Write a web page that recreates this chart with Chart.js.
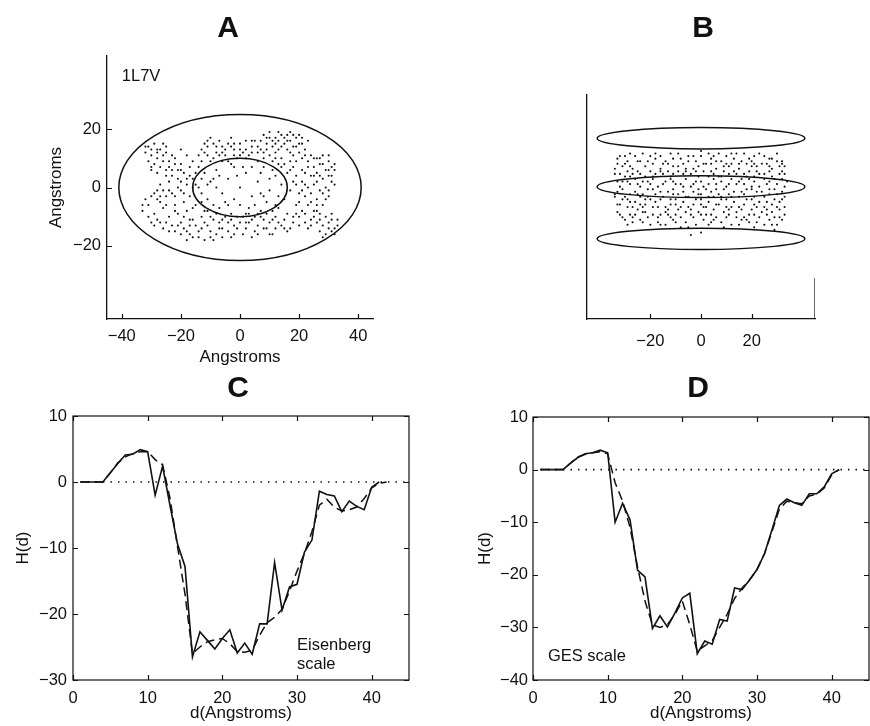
<!DOCTYPE html>
<html>
<head>
<meta charset="utf-8">
<script src="https://cdn.jsdelivr.net/npm/chart.js@4.4.1/dist/chart.umd.min.js"></script>
<style>
  body { margin: 0; background: #fff; }
  #fig { position: relative; width: 870px; height: 726px; overflow: hidden; }
  #fig canvas { position: absolute; }
</style>
</head>
<body>
<div id="fig">
  <canvas id="panelA" width="435" height="380" style="left:0;top:0"></canvas>
  <canvas id="panelB" width="435" height="380" style="left:435px;top:0"></canvas>
  <canvas id="panelC" width="435" height="366" style="left:0;top:360px"></canvas>
  <canvas id="panelD" width="435" height="366" style="left:435px;top:360px"></canvas>
</div>
<script>

const INK = "#111";
const FONT = "'Liberation Sans', Arial, Helvetica, sans-serif";

// =======================
// A - TOP VIEW (x, y in Angstroms)
// =======================

const topViewPts = [
  [-31,14],[-29,15],[-27,13],[-30,11],[-28,10],[-25,12],[-32,12],[-26,15],[-29,8],[-27,7],[-24,9],[-31,9],[-25,6],[-28,13],[-30,6],
  [-22,10],[-20,8],[-23,6],[-19,5],[-17,7],[-21,3],[-24,2],[-18,1],[-16,3],[-20,-1],[-23,-2],[-26,-1],[-25,4],[-17,-3],[-19,-5],
  [-22,-6],[-28,-4],[-31,-6],[-33,-8],[-29,-9],[-26,-7],[-24,-10],[-21,-9],[-18,-8],[-30,-12],[-27,-12],[-23,-13],[-20,-12],
  [-16,-11],[-15,-6],[-14,0],[-15,5],[-22,-3],[-27,1],[-18,11],[-20,13],[-16,9],
  [-12,12],[-10,17],[-8,14],[-6,12],[-4,15],[-2,13],[0,15],[2,16],[4,14],[-13,9],[-9,10],[-5,11],[-1,10],[1,12],[3,11],
  [-11,14],[-7,16],[-3,17],[5,16],[6,12],[-14,11],
  [8,18],[10,19],[12,17],[14,18],[16,18],[18,18],[20,18],[9,15],[11,14],[13,16],[15,15],[17,16],[19,14],[21,15],[7,13],
  [10,11],[12,12],[14,10],[16,13],[18,11],[20,12],[22,13],[8,10],[11,9],[15,8],
  [24,11],[26,10],[28,11],[30,9],[31,7],[29,6],[27,8],[25,7],[23,9],[22,5],[24,4],[26,5],[28,3],[30,4],[32,6],[21,2],[23,0],
  [25,1],[27,-1],[29,0],[31,2],[20,-2],[22,-3],[24,-5],[26,-4],[28,-6],[30,-3],[19,4],[18,7],[17,-1],[19,-6],[21,-8],[25,-8],
  [27,-9],[29,-10],[31,-11],[33,-13],[30,-14],[28,-13],[26,-12],[24,-11],[22,-12],[32,-16],[29,-16],[27,-15],[20,-10],
  [18,-12],[16,-9],[14,-13],[12,-10],[10,-12],[11,-16],[8,-14],[13,-7],
  [-20,-16],[-18,-18],[-16,-17],[-14,-15],[-12,-18],[-10,-17],[-8,-16],[-6,-14],[-4,-15],[-2,-13],[0,-12],[2,-14],[4,-11],
  [6,-13],[-19,-14],[-17,-11],[-15,-13],[-13,-10],[-11,-13],[-9,-11],[-7,-12],[-5,-10],[-3,-11],[-1,-10],[1,-10],[3,-9],
  [5,-10],[7,-10],[9,-9],[-11,-8],
  [-12,5],[-10,2],[-8,6],[-6,-2],[-4,3],[-2,-4],[0,0],[2,5],[4,-3],[6,2],[8,7],[10,-1],[12,4],[-11,-4],[-9,-6],[-3,8],[1,7],
  [5,-6],[9,-5],[13,-3],[11,6],[-7,-7],[3,-7],[-13,-2],[14,1],[-1,4],[7,-2],[-5,-5],[0,-6],[-8,0],
  [16,5],[17,9],[15,-4],[18,2],
  [-30,13],[-26,11],[-28,5],[-24,7],[-21,0],[-25,-3],[-29,-2],[-32,-4],[-27,-5],[-19,-2],[-17,4],[-20,6],[-23,11],[-15,1],
  [-16,-7],[-13,-5],[-24,-15],[-21,-13],[-18,-15],[-14,-17],[-9,-18],[-7,-14],[-3,-17],[1,-16],[3,-12],[5,-15],[7,-8],
  [9,-14],[11,-11],[15,-11],[17,-14],[19,-9],[23,-14],[25,-10],[31,-9],[33,-11],[28,-17],[30,-1],[32,1],[26,2],[24,-2],
  [22,1],[28,8],[30,11],[25,10],[21,10],[19,9],[17,12],[13,13],[15,17],[11,16],[9,13],[7,16],[6,9],[4,12],[2,10],[0,13],
  [-2,11],[-4,9],[-6,14],[-8,12],[-10,9],[-12,15],[-3,14],[19,17],[21,17],[23,16],[13,19],[17,19],[-11,11],[-22,8],
  [-31,-10],[-28,-11],[-26,-14],[-17,-13],[-12,-12],[-8,-9],[-1,-14],[4,-17],[12,-14],[16,-15],[20,-13],[26,-6],[29,-4],
  [23,-6],[20,-5],[21,6],[27,4],[31,4],
  [-32,14],[-28,12],[-25,14],[-30,7],[-26,9],[-23,4],[-21,6],[-18,3],[-16,0],[-20,2],[-24,-1],[-28,-1],[-30,-3],[-33,-6],
  [-27,-3],[-25,-6],[-22,-8],[-19,-10],[-29,-13],[-25,-12],[-22,-15],[-17,-16],[-13,-14],[-10,-15],[-6,-17],[-4,-12],
  [-2,-16],[2,-12],[6,-16],[8,-11],[10,-16],[13,-12],[15,-14],[18,-10],[22,-9],[24,-13],[27,-11],[30,-12],[32,-14],
  [31,-15],[26,-8],[28,-2],[30,6],[32,8],[27,10],[25,4],[23,7],[21,-1],[19,1],[17,6],[18,14],[20,15],[22,11],[16,16],
  [14,14],[12,15],[10,17],[8,12],[6,14],[4,16],[2,13],[0,11],[-2,15],[-5,13],[-7,11],[-9,15],[-11,16],[-13,13],[-6,9],
  [9,17],[12,10],[14,7],[-14,7],[-12,-8],[-10,-10],[-6,-11],[-3,-9],[2,-9],[6,-9],[11,-8],[-4,-6],[-9,3],[-11,1],[-7,4],
  [4,7],[7,5],[10,3],[12,-6],[-2,7],[8,-3],[-13,3],[13,8]
];
// outer and inner rings: centre x, centre y, half-width, half-height
const topViewRings = [[0, 0, 41, 25], [0, 0, 16, 10]];
const ticksAX = [-40, -20, 0, 20, 40];
const ticksAY = [-20, 0, 20];

// =======================
// B - SIDE VIEW
// =======================

const sideViewPts = [
  [-28,13],[-20,12],[-12,13],[-5,12],[3,13],[10,12],[17,13],[25,12],[30,13],
  [-33,11],[-25,10],[-18,11],[-14,10],[-8,11],[-2,10],[4,11],[8,10],[13,11],[20,10],[27,11],[32,10],[-30,9],[0,12],
  [-31,8],[-27,7],[-22,8],[-16,7],[-11,8],[-6,7],[-1,8],[6,7],[11,8],[15,7],[22,8],[28,7],[33,8],[-19,9],[2,9],[18,9],[24,9],
  [-32,5],[-29,6],[-24,5],[-20,6],[-15,5],[-9,6],[-4,5],[1,6],[5,5],[9,6],[14,5],[19,6],[23,5],[27,6],[31,5],[-12,4],[7,4],
  [-26,3],[16,3],[29,3],
  [-33,2],[-28,1],[-23,2],[-19,3],[-14,2],[-10,1],[-6,3],[-2,2],[3,1],[8,2],[12,3],[17,1],[21,2],[25,3],[30,1],[34,2],
  [-17,0],[-4,0],[10,0],[23,0],
  [-31,-1],[-26,-2],[-21,-1],[-16,-2],[-11,-1],[-7,-2],[-1,-1],[4,-2],[9,-1],[13,-2],[18,-1],[22,-2],[27,-1],[32,-2],[0,-3],
  [-34,-4],[-29,-5],[-24,-4],[-20,-5],[-15,-4],[-10,-5],[-5,-4],[0,-5],[5,-4],[10,-5],[15,-4],[20,-5],[25,-4],[29,-5],
  [33,-4],[-18,-3],[7,-3],[26,-6],
  [-32,-7],[-27,-8],[-22,-7],[-17,-8],[-12,-7],[-8,-8],[-3,-7],[2,-8],[7,-7],[12,-8],[17,-7],[22,-8],[28,-7],[31,-9],
  [-25,-9],[-6,-10],[14,-10],
  [-33,-10],[-28,-11],[-23,-10],[-19,-11],[-14,-10],[-10,-11],[-1,-10],[4,-11],[9,-10],[19,-11],[24,-10],[29,-12],[33,-11],
  [-30,-13],[-24,-13],[-17,-14],[-11,-13],[-6,-14],[1,-13],[8,-14],[16,-13],[22,-14],[27,-13],[-20,-15],[-8,-16],[30,-15],
  [-4,-19],[0,-18],
  [-30,12],[-23,13],[-16,12],[-9,13],[0,14],[7,13],[14,13],[21,12],[28,11],
  [-34,7],[-29,10],[-21,10],[-13,9],[-7,9],[-3,7],[4,9],[9,8],[12,9],[16,10],[20,8],[26,9],[31,8],
  [-30,4],[-27,5],[-22,4],[-18,5],[-13,6],[-7,5],[-2,6],[3,4],[11,5],[17,5],[21,4],[25,5],[33,5],
  [-31,2],[-25,1],[-21,2],[-12,3],[-8,1],[0,2],[5,3],[14,1],[19,3],[27,2],[32,3],
  [-33,-2],[-28,-3],[-23,-3],[-19,-1],[-13,-2],[-9,-3],[-3,-2],[2,-1],[6,-1],[11,-3],[16,-2],[20,-1],[24,-2],[30,-3],
  [-31,-5],[-26,-6],[-22,-5],[-12,-5],[-7,-6],[-2,-5],[3,-6],[8,-5],[13,-6],[18,-5],[23,-6],[31,-6],
  [-29,-8],[-24,-7],[-19,-8],[-14,-8],[-9,-9],[-5,-8],[0,-7],[5,-9],[10,-8],[15,-8],[20,-9],[25,-8],[33,-8],
  [-31,-12],[-26,-11],[-21,-12],[-16,-11],[-12,-12],[-3,-12],[2,-11],[6,-12],[11,-11],[17,-12],[21,-11],[26,-11],[31,-12],
  [-27,-14],[-14,-15],[-2,-15],[4,-14],[12,-15],[19,-14],[25,-15],[29,-17],
  [-32,12],[-26,12],[-18,13],[-11,11],[-3,12],[5,12],[12,13],[19,11],[23,13],[30,10],
  [-33,9],[-28,8],[-24,10],[-15,9],[-9,8],[-5,10],[1,9],[6,10],[10,9],[15,9],[21,9],[27,8],[32,9],
  [-34,5],[-28,4],[-25,6],[-19,4],[-16,6],[-11,5],[-6,6],[-1,4],[4,6],[8,4],[13,6],[18,4],[22,6],[28,4],[32,6],
  [-32,0],[-29,2],[-24,0],[-20,1],[-15,1],[-11,2],[-7,0],[-3,1],[1,0],[6,1],[11,1],[15,2],[20,0],[26,1],[29,-1],[33,0],
  [-34,-3],[-30,-4],[-25,-3],[-21,-4],[-16,-5],[-11,-3],[-6,-4],[-1,-3],[3,-4],[8,-4],[12,-4],[17,-3],[21,-4],[27,-3],[32,-5],
  [-33,-7],[-28,-6],[-23,-8],[-18,-6],[-13,-9],[-10,-7],[-4,-9],[1,-8],[6,-7],[11,-9],[16,-9],[21,-7],[26,-9],[30,-8],
  [-32,-11],[-27,-12],[-22,-10],[-17,-12],[-13,-11],[-8,-12],[-4,-11],[0,-11],[5,-13],[10,-12],[14,-12],[18,-13],[23,-12],
  [28,-10],[32,-13],
  [-29,-15],[-23,-14],[-16,-15],[-10,-14],[-5,-16],[3,-15],[9,-16],[15,-15],[21,-16],[28,-15]
];
const sideViewDisks = [[0, 19, 41, 4.2], [0, 0, 41, 4.3], [0, -20.5, 41, 4.2]];
const sideEdgeX = [45, 45];
const sideEdgeY = [-52, -36];
const ticksBX = [-20, 0, 20];

// =======================
// C - EISENBERG SCALE  H(d)
// =======================

const distC = [1,2,3,4,5,6,7,8,9,10,11,12,13,14,15,16,17,18,19,20,21,22,23,24,25,26,27,28,29,30,31,32,33,34,35,36,37,38,39,40,41];
const hEisen = [0,0,0,0,1.4,2.8,4.1,4.2,4.9,4.6,-2.0,2.4,-3.6,-9.4,-12.8,-26.5,-22.7,-24.0,-25.3,-23.7,-22.4,-25.9,-24.4,-26.1,
  -21.5,-21.5,-12.2,-19.4,-15.9,-15.5,-10.6,-8.8,-1.4,-1.9,-2.1,-4.5,-2.9,-3.7,-4.2,-0.8,0];
const distCSmooth = [1,2,3,4,5,6,7,8,9,10,11,12,13,14,15,16,17,18,19,20,21,22,23,24,25,26,27,28,29,30,31,32,33,34,35,36,37,38,39,40,41,42];
const hEisenSmooth = [0,0,0,0,1.4,2.9,3.8,4.3,4.6,4.6,3.4,2.6,-2.5,-9.8,-17,-26,-25,-24.2,-23.9,-23.7,-24.5,-25.7,-25.8,-25.5,
  -23.2,-21.3,-20.5,-19.3,-16.5,-13.5,-10.8,-7.5,-3.5,-2.6,-3.8,-4.4,-4.2,-3.8,-2.5,-0.9,-0.2,0];

// =======================
// D - GES SCALE  H(d)
// =======================

const distD = [1,2,3,4,5,6,7,8,9,10,11,12,13,14,15,16,17,18,19,20,21,22,23,24,25,26,27,28,29,30,31,32,33,34,35,36,37,38,39,40,41];
const hGES = [0,0,0,0,1.2,2.3,3.0,3.2,3.7,3.2,-10.0,-6.4,-9.6,-19.1,-20.4,-30.2,-27.8,-29.9,-27.3,-24.4,-23.5,-35.0,-32.6,-33.2,
  -28.5,-28.8,-22.5,-22.8,-21.0,-19.0,-16.0,-11.5,-6.8,-5.6,-6.3,-6.8,-4.6,-4.6,-3.3,-0.8,0];
const hGESSmooth = [0,0,0,0,1.2,2.4,2.9,3.2,3.4,3.0,-2.5,-6,-11,-18.5,-25,-29.5,-30,-29.5,-27.5,-25,-29.5,-34.5,-33.5,-32.5,
  -30,-27.5,-24.5,-22.5,-21,-19,-16,-11.8,-7.5,-6,-6.3,-6.5,-5,-4.7,-3.5,-1,0];

const zeroX = [1, 45];
const zeroY = [0, 0];
const ticksHX = [0, 10, 20, 30, 40];
const ticksCY = [-30, -20, -10, 0, 10];
const ticksDY = [-40, -30, -20, -10, 0, 10];

// =======================
// HELPERS
// =======================

const pts = (xs, ys) => xs.map((x, i) => ({ x, y: ys[i] }));
const pairs = arr => arr.map(p => ({ x: p[0], y: p[1] }));

function dots(data) {
  return { data, showLine: false, pointRadius: 1.05, pointBorderWidth: 0, pointBackgroundColor: INK };
}

function curve(data, dash, width) {
  return {
    data, showLine: true, fill: false, tension: 0,
    borderColor: INK, borderWidth: width || 1.6, borderDash: dash || [],
    pointRadius: 0
  };
}

function axis(o) {
  return {
    type: "linear",
    min: o.min,
    max: o.max,
    grid: { display: false, drawTicks: false },
    border: { display: !!o.border, color: INK, width: 1.3 },
    ticks: {
      display: o.labels !== false,
      color: INK,
      padding: o.pad || 0,
      font: { family: FONT, size: 16.5 },
      callback: v => v < 0 ? "\u2212" + Math.abs(v) : String(v)
    },
    title: {
      display: !!o.title,
      text: o.title,
      color: INK,
      padding: 0,
      font: { family: FONT, size: 17 }
    },
    afterBuildTicks: s => { s.ticks = (o.ticks || []).map(v => ({ value: v })); },
    afterFit: s => {
      if (s.isHorizontal()) s.height = o.size;
      else s.width = o.size;
    }
  };
}

// frame, inward tick marks, outlines and labels
function decor(cfg) {
  return {
    id: "decor",
    afterDraw(chart) {
      const { ctx, chartArea: a, scales: { x, y } } = chart;
      const T = 5;
      ctx.save();
      ctx.strokeStyle = INK;
      ctx.fillStyle = INK;

      ctx.lineWidth = 1.5;
      (cfg.ellipses || []).forEach(e => {
        const cx = x.getPixelForValue(e[0]);
        const cy = y.getPixelForValue(e[1]);
        const rx = Math.abs(x.getPixelForValue(e[0] + e[2]) - cx);
        const ry = Math.abs(y.getPixelForValue(e[1] + e[3]) - cy);
        ctx.beginPath();
        ctx.ellipse(cx, cy, rx, ry, 0, 0, Math.PI * 2);
        ctx.stroke();
      });

      ctx.lineWidth = 1.2;
      if (cfg.box) ctx.strokeRect(a.left, a.top, a.width, a.height);

      ctx.beginPath();
      if (cfg.xTicks) x.ticks.forEach(t => {
        const px = Math.round(x.getPixelForValue(t.value)) + 0.5;
        ctx.moveTo(px, a.bottom); ctx.lineTo(px, a.bottom - T);
        if (cfg.box) { ctx.moveTo(px, a.top); ctx.lineTo(px, a.top + T); }
      });
      if (cfg.yTicks) y.ticks.forEach(t => {
        const py = Math.round(y.getPixelForValue(t.value)) + 0.5;
        ctx.moveTo(a.left, py); ctx.lineTo(a.left + T, py);
        if (cfg.box) { ctx.moveTo(a.right, py); ctx.lineTo(a.right - T, py); }
      });
      ctx.stroke();

      (cfg.text || []).forEach(t => {
        ctx.font = t.font;
        ctx.textAlign = t.align || "center";
        ctx.textBaseline = "middle";
        const px = t.at ? x.getPixelForValue(t.at[0]) : t.px[0];
        const py = t.at ? y.getPixelForValue(t.at[1]) : t.px[1];
        ctx.fillText(t.text, px, py);
      });
      ctx.restore();
    }
  };
}

function panel(id, cfg) {
  return new Chart(document.getElementById(id), {
    type: "scatter",
    data: { datasets: cfg.datasets },
    options: {
      responsive: false,
      animation: false,
      devicePixelRatio: 1,
      events: [],
      layout: { padding: cfg.padding },
      plugins: { legend: { display: false }, tooltip: { enabled: false } },
      scales: { x: cfg.x, y: cfg.y }
    },
    plugins: [decor(cfg.decor)]
  });
}

const LETTER = "bold 30px " + FONT;
const NOTE = "16.5px " + FONT;

// =======================
// PANELS
// =======================

panel("panelA", {
  padding: { left: 46, right: 62, top: 56, bottom: 12 },
  datasets: [dots(pairs(topViewPts))],
  x: axis({ min: -45, max: 45, ticks: ticksAX, title: "Angstroms", border: true, pad: 7.5, size: 49 }),
  y: axis({ min: -45, max: 45, ticks: ticksAY, title: "Angstroms", border: true, pad: 6, size: 61 }),
  decor: {
    ellipses: topViewRings, xTicks: true, yTicks: true,
    text: [
      { text: "A", px: [228, 28.5], font: LETTER },
      { text: "1L7V", at: [-40, 38], font: NOTE, align: "left" }
    ]
  }
});

panel("panelB", {
  padding: { left: 150, right: 55, top: 95, bottom: 14 },
  datasets: [dots(pairs(sideViewPts)), curve(pts(sideEdgeX, sideEdgeY), [], 1.3)],
  x: axis({ min: -45, max: 45, ticks: ticksBX, border: true, pad: 13, size: 47 }),
  y: axis({ min: -52, max: 36, ticks: [], labels: false, border: true, size: 2 }),
  decor: {
    ellipses: sideViewDisks, xTicks: true,
    text: [{ text: "B", px: [268, 28.5], font: LETTER }]
  }
});

panel("panelC", {
  padding: { left: 13, right: 26, top: 56, bottom: 2.5 },
  datasets: [
    curve(pts(zeroX, zeroY), [1.5, 6], 1.6),
    curve(pts(distCSmooth, hEisenSmooth), [9, 5], 1.5),
    curve(pts(distC, hEisen), [], 1.6)
  ],
  x: axis({ min: 0, max: 45, ticks: ticksHX, title: "d(Angstroms)", pad: 9, size: 43.5 }),
  y: axis({ min: -30, max: 10, ticks: ticksCY, title: "H(d)", pad: 6, size: 60 }),
  decor: {
    box: true, xTicks: true, yTicks: true,
    text: [
      { text: "C", px: [238, 28.5], font: LETTER },
      { text: "Eisenberg", at: [30, -24.7], font: NOTE, align: "left" },
      { text: "scale", at: [30, -27.6], font: NOTE, align: "left" }
    ]
  }
});

panel("panelD", {
  padding: { left: 40, right: 1, top: 57, bottom: 2.5 },
  datasets: [
    curve(pts(zeroX, zeroY), [1.5, 6], 1.6),
    curve(pts(distD, hGESSmooth), [9, 5], 1.5),
    curve(pts(distD, hGES), [], 1.6)
  ],
  x: axis({ min: 0, max: 45, ticks: ticksHX, title: "d(Angstroms)", pad: 9, size: 43.5 }),
  y: axis({ min: -40, max: 10, ticks: ticksDY, title: "H(d)", pad: 5, size: 58 }),
  decor: {
    box: true, xTicks: true, yTicks: true,
    text: [
      { text: "D", px: [263, 28.5], font: LETTER },
      { text: "GES scale", at: [2, -35.6], font: NOTE, align: "left" }
    ]
  }
});

</script>
</body>
</html>
